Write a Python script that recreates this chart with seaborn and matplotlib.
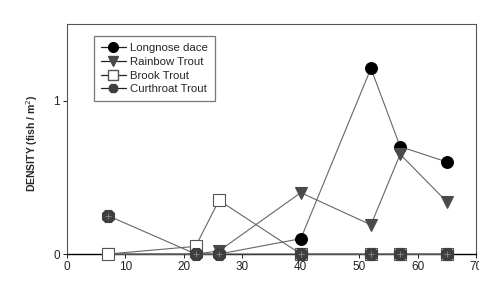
import matplotlib
matplotlib.use("Agg")
import matplotlib.pyplot as plt
import seaborn as sns
import pandas as pd
from matplotlib.lines import Line2D

distance = [7, 22, 26, 40, 52, 57, 65]
longnose_dace = [0.0, 0.0, 0.0, 0.10, 1.21, 0.70, 0.60]
rainbow_trout = [0.0, 0.0, 0.02, 0.40, 0.19, 0.65, 0.34]
brook_trout = [0.0, 0.05, 0.35, 0.0, 0.0, 0.0, 0.0]
cutthroat_trout = [0.25, 0.0, 0.0, 0.0, 0.0, 0.0, 0.0]
series_names = ["Longnose dace", "Rainbow Trout", "Brook Trout", "Curthroat Trout"]
x_ticks = [0, 10, 20, 30, 40, 50, 60, 70]
y_ticks = [0, 1]

sns.set_theme(style="white")
plt.rcParams["font.family"] = ["Liberation Sans", "DejaVu Sans"]

fig = plt.figure(figsize=(4.79, 2.81), dpi=100)
ax = fig.add_axes([0.140, 0.096, 0.854, 0.819])

styles = [
    dict(marker="o", mfc="#000000", mec="#000000", ms=8.5),
    dict(marker="v", mfc="#4a4a4a", mec="#4a4a4a", ms=8.5),
    dict(marker="s", mfc="white", mec="#555555", ms=8),
    dict(marker="8", mfc="#3f3f3f", mec="#3f3f3f", ms=10),
]
values = [longnose_dace, rainbow_trout, brook_trout, cutthroat_trout]

for name, vals, st in zip(series_names, values, styles):
    df = pd.DataFrame({"x": distance, "y": vals})
    sns.lineplot(data=df, x="x", y="y", ax=ax, color="#666666", linewidth=0.8,
                 marker=st["marker"], markersize=st["ms"],
                 markerfacecolor=st["mfc"], markeredgecolor=st["mec"],
                 markeredgewidth=0.8, legend=False, zorder=3, clip_on=False)
# crosses inside cutthroat markers
sns.scatterplot(x=distance, y=cutthroat_trout, ax=ax, marker="+", s=18,
                color="#8a8a8a", linewidth=0.6, zorder=4, legend=False, clip_on=False)

handles = []
for name, st in zip(series_names, styles):
    handles.append(Line2D([0], [0], color="#222222", linewidth=0.9,
                          marker=st["marker"], markersize=7,
                          markerfacecolor=st["mfc"], markeredgecolor=st["mec"],
                          label=name))
leg = ax.legend(handles=handles, loc="upper left", bbox_to_anchor=(0.052, 0.97),
                fontsize=8.2, frameon=True, fancybox=False, handlelength=2.2,
                handletextpad=0.4, labelspacing=0.32, borderpad=0.6,
                edgecolor="#555555")
leg.get_frame().set_linewidth(0.9)

ax.set_xlim(0, 70)
ax.set_ylim(0, 1.5)
ax.set_xticks(x_ticks)
ax.set_yticks(y_ticks)
ax.tick_params(axis="both", labelsize=8.5, length=3, width=0.7, colors="#222222",
               direction="out", bottom=True, left=True, pad=2)
for side, sp in ax.spines.items():
    sp.set_visible(True)
    sp.set_color("#555555")
    sp.set_linewidth(0.8)
ax.spines["bottom"].set_color("#000000")
ax.spines["bottom"].set_linewidth(1.0)

ax.set_ylabel("DENSITY (fish / m$^2$)", fontsize=7.5, fontweight="bold")
ax.yaxis.set_label_coords(-0.066, 0.48)
ax.set_xlabel("LONGITUDINAL DISTANCE", fontsize=8, fontweight="bold", labelpad=8)

fig.savefig("out.png", dpi=100)
